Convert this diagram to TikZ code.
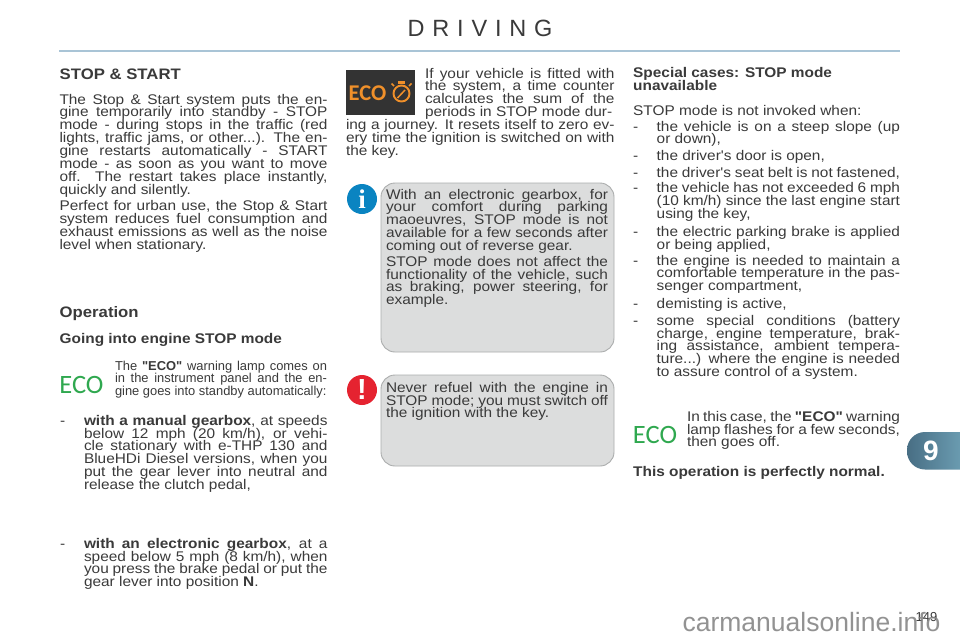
\documentclass[tikz,border=0pt]{standalone}
\usepackage{fontspec}
\newfontfamily\bodyfont{Liberation Sans}[FakeStretch=1.1]
\newfontfamily\plainfont{Liberation Sans}
\newfontfamily\ecofont{Carlito}
\definecolor{ink}{HTML}{3A3A3A}
\definecolor{boxfill}{HTML}{DCDDDD}
\definecolor{boxedge}{HTML}{ABADAD}
\definecolor{rulecol}{HTML}{A9C4D6}
\definecolor{ecogreen}{HTML}{2FA84F}
\definecolor{ecoorange}{HTML}{F0902A}
\definecolor{infoblue}{HTML}{0A84C1}
\definecolor{warnred}{HTML}{E52330}
\definecolor{tabdark}{HTML}{486E84}
\definecolor{tablight}{HTML}{6A9BB0}
\tikzset{
  para/.style={anchor=north west,inner sep=0pt,outer sep=0pt,align=justify,text=ink,font=\bodyfont\fontsize{14}{12.85}\selectfont},
  lefttext/.style={anchor=base west,inner sep=0pt,text=ink},
  heading/.style={lefttext,font=\bodyfont\fontsize{15.2}{15}\selectfont\bfseries},
  subhead/.style={lefttext,font=\bodyfont\fontsize{14}{13}\selectfont\bfseries},
  notebox/.style={draw=boxedge,fill=boxfill,line width=0.9pt,rounded corners=14pt},
  ecogreenmark/.style={inner sep=0pt,text=ecogreen,font=\fontsize{26.5}{27}\selectfont\ecofont},
}
\newcommand{\parafix}{\tolerance=9999\hbadness=10000\hfuzz=40pt\hyphenpenalty=10000\exhyphenpenalty=0\parindent=0pt\parskip=0pt\rightskip=0pt\leftskip=0pt\lineskiplimit=-20pt}
% name, x, first baseline y, width, text
\newcommand{\para}[6][]{\node[para,text width=#5pt,#1] (#2) at (#3,#4-10) {\parafix\rule{0pt}{10pt}#6\par};}
\begin{document}
\begin{tikzpicture}[x=1pt,y=-1pt]
\useasboundingbox (0,0) rectangle (960,640);
\fill[white] (0,0) rectangle (960,640);
% header
\node[inner sep=0pt,text=ink,font=\plainfont\fontsize{23.5}{23}\selectfont,anchor=base] (title) at (480,36) {D\,\,R\,\,I\,\,V\,\,I\,\,N\,\,G};
\coordinate (ruleL) at (59,51); \coordinate (ruleR) at (900,51);
\draw[rulecol,line width=1.3pt] (ruleL) -- (ruleR);
% left column
\node[heading] (h1) at (59.5,79) {STOP \& START};
\para{p1}{59.5}{104}{268}{The Stop \& Start system puts the en-\linebreak gine temporarily into standby - STOP\linebreak mode - during stops in the traffic (red\linebreak lights, traffic jams, or other...). The en-\linebreak gine restarts automatically - START\linebreak mode - as soon as you want to move\linebreak off. The restart takes place instantly,\linebreak quickly and silently.}
\para{p2}{59.5}{210.5}{268}{Perfect for urban use, the Stop \& Start\linebreak system reduces fuel consumption and\linebreak exhaust emissions as well as the noise\linebreak level when stationary.}
\node[heading] (h2) at (59.5,317) {Operation};
\node[subhead] (h3) at (59.5,343) {Going into engine STOP mode};
\node[ecogreenmark] (eco1) at (81.5,385) {ECO};
\para[font=\plainfont\fontsize{12.9}{12.85}\selectfont]{p3}{115}{370}{212}{The \textbf{"ECO"} warning lamp comes on\linebreak in the instrument panel and the en-\linebreak gine goes into standby automatically:}
\para{p4}{60}{425}{267.5}{\hangindent=24pt\hangafter=1\makebox[24pt][l]{-}\textbf{with a manual gearbox}, at speeds\linebreak below 12 mph (20 km/h), or vehi-\linebreak cle stationary with e-THP 130 and\linebreak BlueHDi Diesel versions, when you\linebreak put the gear lever into neutral and\linebreak release the clutch pedal,}
\para{p5}{60}{548}{267.5}{\hangindent=24pt\hangafter=1\makebox[24pt][l]{-}\textbf{with an electronic gearbox}, at a\linebreak speed below 5 mph (8 km/h), when\linebreak you press the brake pedal or put the\linebreak gear lever into position \textbf{N}.}
% middle column
\fill[black!80] (346,69.5) rectangle (414.5,115);
\node[inner sep=0pt,text=ecoorange,font=\fontsize{22.5}{23}\selectfont\ecofont\bfseries] (eco2) at (367.5,93) {ECO};
\draw[ecoorange,line width=1.9pt] (401.5,93.5) circle (8);
\draw[ecoorange,line width=2.2pt] (398,82.5) -- (405,82.5);
\draw[ecoorange,line width=1.6pt] (394,86) -- (391.5,83.5) (409,86) -- (411.5,83.5);
\draw[ecoorange,line width=1.5pt] (397.5,98) -- (405,90);
\para{p6}{425}{78}{189.5}{If your vehicle is fitted with\linebreak the system, a time counter\linebreak calculates the sum of the\linebreak periods in STOP mode dur-}
\para{p7}{346}{129.5}{268.5}{ing a journey. It resets itself to zero ev-\linebreak ery time the ignition is switched on with\linebreak the key.}
\fill[infoblue] (362,199) circle (15);
\node[inner sep=0pt,text=white,font=\fontsize{27}{27}\selectfont\bfseries] (info) at (362,199.5) {\fontspec{Liberation Serif}[Ligatures=TeX]\bfseries i};
\draw[notebox] (381,183) rectangle (614,352);
\para{p8}{386}{199}{222}{With an electronic gearbox, for\linebreak your comfort during parking\linebreak maoeuvres, STOP mode is not\linebreak available for a few seconds after\linebreak coming out of reverse gear.}
\para{p9}{386}{266}{222}{STOP mode does not affect the\linebreak functionality of the vehicle, such\linebreak as braking, power steering, for\linebreak example.}
\fill[warnred] (362,390) circle (15);
\node[inner sep=0pt,text=white,font=\plainfont\fontsize{29}{29}\selectfont\bfseries] (warn) at (362,390) {!};
\draw[notebox] (381,375) rectangle (614,466);
\para{p10}{386}{392}{222}{Never refuel with the engine in\linebreak STOP mode; you must switch off\linebreak the ignition with the key.}
% right column
\node[subhead] (h4) at (633,77) {Special cases: STOP mode};
\node[subhead] (h5) at (633,90.5) {unavailable};
\node[lefttext,font=\bodyfont\fontsize{14}{13}\selectfont] (p11) at (633,115) {STOP mode is not invoked when:};
\newcommand{\ritem}[3]{\para{#1}{633}{#2}{267}{\hangindent=23.7pt\hangafter=1\makebox[23.7pt][l]{-}#3}}
\ritem{i1}{131}{the vehicle is on a steep slope (up\linebreak or down),}
\ritem{i2}{160}{the driver's door is open,}
\ritem{i3}{177}{the driver's seat belt is not fastened,}
\ritem{i4}{192.5}{the vehicle has not exceeded 6 mph\linebreak (10 km/h) since the last engine start\linebreak using the key,}
\ritem{i5}{236.7}{the electric parking brake is applied\linebreak or being applied,}
\ritem{i6}{265}{the engine is needed to maintain a\linebreak comfortable temperature in the pas-\linebreak senger compartment,}
\ritem{i7}{308}{demisting is active,}
\ritem{i8}{325}{some special conditions (battery\linebreak charge, engine temperature, brak-\linebreak ing assistance, ambient tempera-\linebreak ture...) where the engine is needed\linebreak to assure control of a system.}
\node[ecogreenmark] (eco3) at (655,435) {ECO};
\para{p12}{687}{421}{213}{In this case, the \textbf{"ECO"} warning\linebreak lamp flashes for a few seconds,\linebreak then goes off.}
\node[subhead] (h6) at (633,476) {This operation is perfectly normal.};
% tab
\shade[left color=tabdark,right color=tablight] (960,432) [rounded corners=18pt] -- (907,432) -- (907,469.5) [sharp corners] -- (960,469.5) -- cycle;
\node[inner sep=0pt,text=white,font=\plainfont\fontsize{28}{28}\selectfont\bfseries] (tabnum) at (931,451) {9};
% footer
\node[inner sep=0pt,text=ink,font=\plainfont\fontsize{13}{13}\selectfont,anchor=base] (page) at (926.5,621.7) {149};
\node[inner sep=0pt,text=black!50,opacity=.85,font=\plainfont\fontsize{26.5}{26.5}\selectfont,anchor=base] (mark) at (811.5,631.7) {carmanualsonline.info};
\end{tikzpicture}
\end{document}
